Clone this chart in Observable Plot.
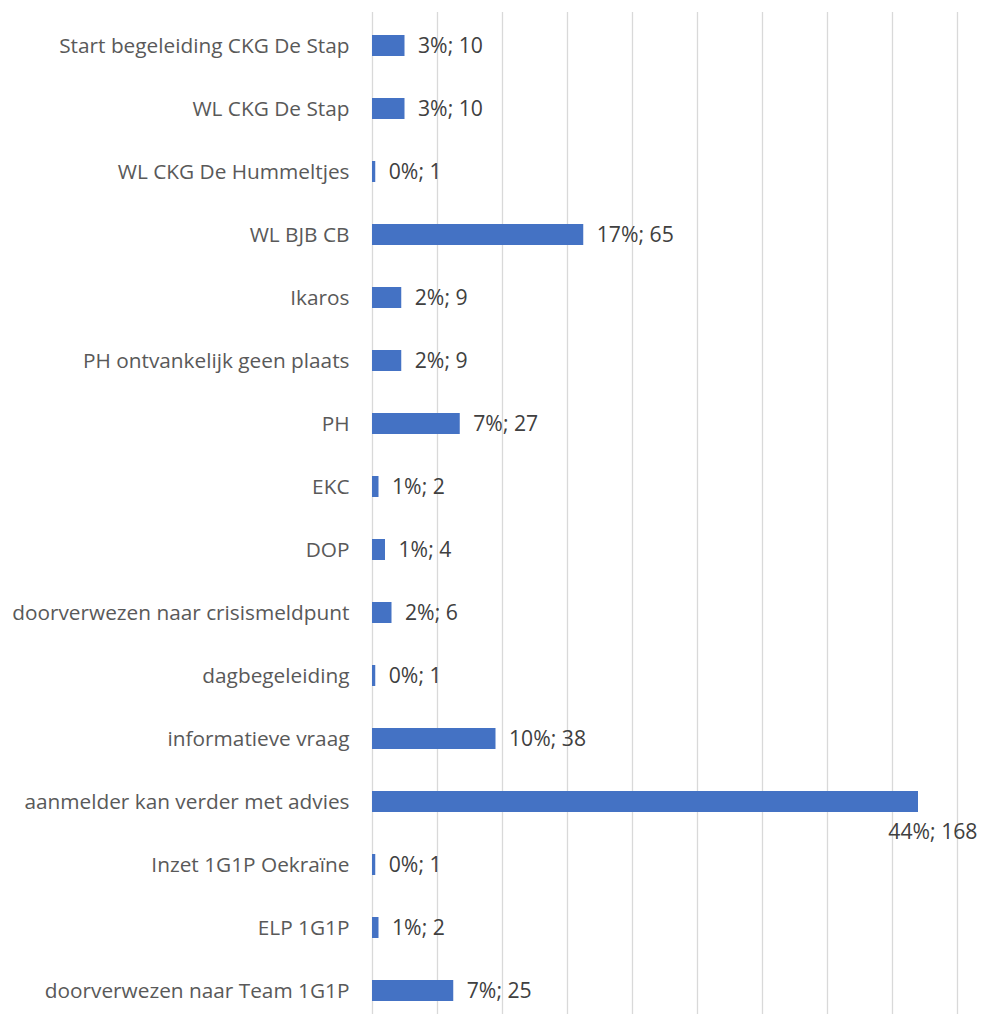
<!DOCTYPE html>
<html>
<head>
<meta charset="utf-8">
<script src="https://cdn.jsdelivr.net/npm/d3@7"></script>
<script src="https://cdn.jsdelivr.net/npm/@observablehq/plot@0.6"></script>
<style>
  html, body { margin: 0; padding: 0; background: #fff; }
  #chart svg { display: block; }
</style>
</head>
<body>
<div id="chart"></div>
<script>
const categories = [
  "Start begeleiding CKG De Stap",
  "WL CKG De Stap",
  "WL CKG De Hummeltjes",
  "WL BJB CB",
  "Ikaros",
  "PH ontvankelijk geen plaats",
  "PH",
  "EKC",
  "DOP",
  "doorverwezen naar crisismeldpunt",
  "dagbegeleiding",
  "informatieve vraag",
  "aanmelder kan verder met advies",
  "Inzet 1G1P Oekraïne",
  "ELP 1G1P",
  "doorverwezen naar Team 1G1P"
];
const counts = [10, 10, 1, 65, 9, 9, 27, 2, 4, 6, 1, 38, 168, 1, 2, 25];
const percents = [3, 3, 0, 17, 2, 2, 7, 1, 1, 2, 0, 10, 44, 0, 1, 7];
const gridTicks = [0, 20, 40, 60, 80, 100, 120, 140, 160, 180];

const data = categories.map((c, i) => ({
  category: c,
  count: counts[i],
  label: `${percents[i]}%; ${counts[i]}`
}));
const maxCount = d3.max(counts);

const chart = Plot.plot({
  width: 981,
  height: 1014,
  marginLeft: 372,
  marginRight: 24,
  marginTop: 12,
  marginBottom: 0,
  style: { fontFamily: "'Open Sans', sans-serif", background: "#fff" },
  x: { domain: [0, 180], axis: null },
  y: { domain: categories, range: [13.5, 1021.5], paddingInner: 0.67, paddingOuter: 0.335, axis: null },
  marks: [
    Plot.ruleX(gridTicks, { stroke: "#d9d9d9", strokeWidth: 1.3 }),
    Plot.barX(data, { x: "count", y: "category", fill: "#4472c4" }),
    Plot.axisY({ tickSize: 0, tickPadding: 23, fontSize: 20.8, color: "#595959", label: null }),
    Plot.text(data.filter(d => d.count !== maxCount), {
      x: "count", y: "category", text: "label",
      textAnchor: "start", dx: 13, fontSize: 21.2, fill: "#404040"
    }),
    Plot.text(data.filter(d => d.count === maxCount), {
      x: "count", y: "category", text: "label",
      textAnchor: "end", dx: 59, dy: 30, fontSize: 21.2, fill: "#404040"
    })
  ]
});
document.getElementById("chart").appendChild(chart);
</script>
</body>
</html>
